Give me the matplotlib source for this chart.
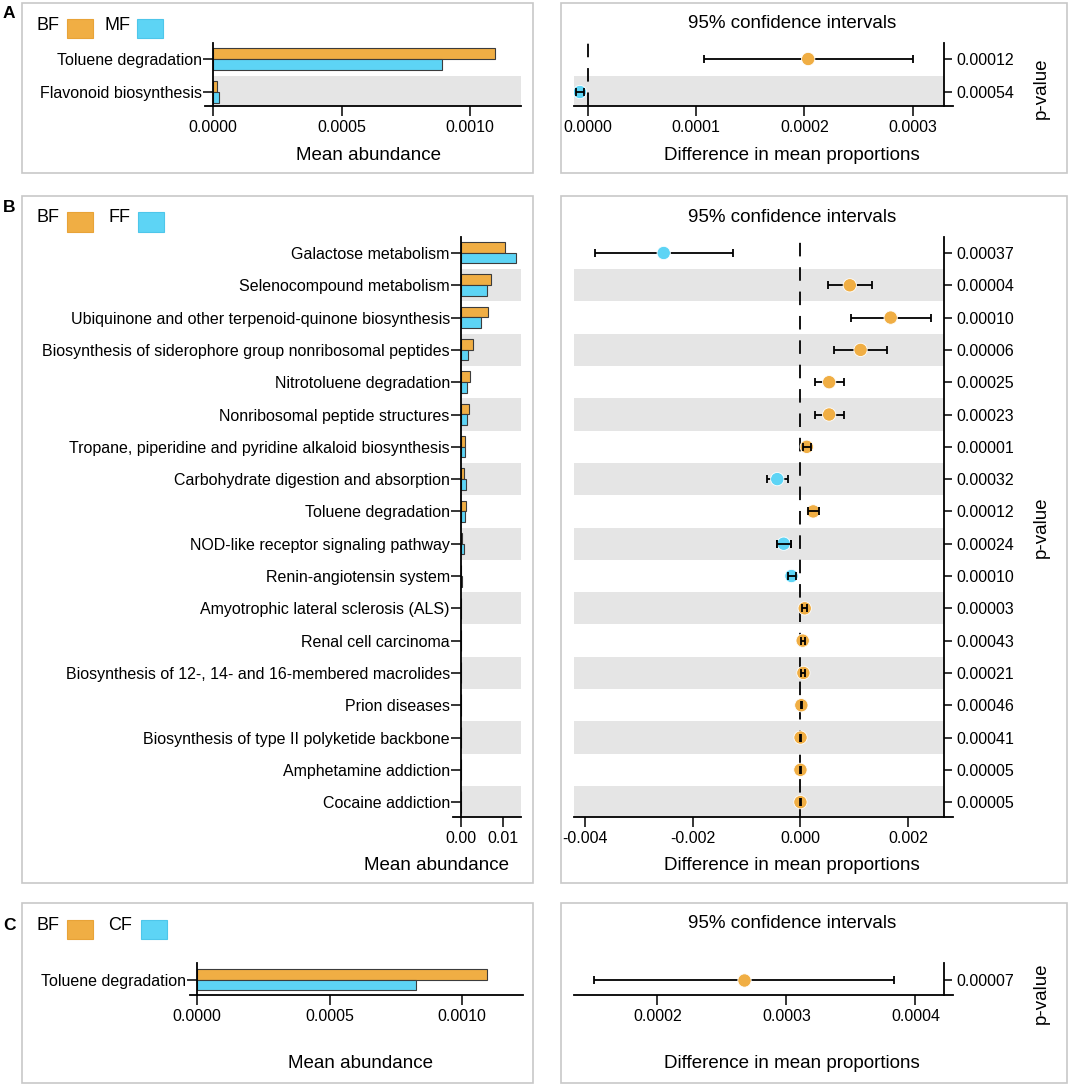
import matplotlib
matplotlib.use('Agg')
import matplotlib.pyplot as plt
from matplotlib.patches import Rectangle
import numpy as np

plt.rcParams['font.family'] = ['Liberation Sans', 'DejaVu Sans']
plt.rcParams['axes.unicode_minus'] = False

W, H = 1074, 1086
ORANGE = '#F0AE44'
BLUE = '#5DD4F5'
BAND = '#E5E5E5'
FRAME = '#C8C8C8'

# ---- panel A : BF vs MF
a_paths = ['Toluene degradation', 'Flavonoid biosynthesis']
a_bf = [0.001095, 0.000017]
a_mf = [0.000889, 0.000025]
a_diff = [0.0002036, -0.0000072]
a_lo = [0.0001074, -0.0000110]
a_hi = [0.0003000, -0.0000031]
a_p = ['0.00012', '0.00054']

# ---- panel B : BF vs FF
b_paths = ['Galactose metabolism', 'Selenocompound metabolism',
           'Ubiquinone and other terpenoid-quinone biosynthesis',
           'Biosynthesis of siderophore group nonribosomal peptides',
           'Nitrotoluene degradation', 'Nonribosomal peptide structures',
           'Tropane, piperidine and pyridine alkaloid biosynthesis',
           'Carbohydrate digestion and absorption', 'Toluene degradation',
           'NOD-like receptor signaling pathway', 'Renin-angiotensin system',
           'Amyotrophic lateral sclerosis (ALS)', 'Renal cell carcinoma',
           'Biosynthesis of 12-, 14- and 16-membered macrolides',
           'Prion diseases', 'Biosynthesis of type II polyketide backbone',
           'Amphetamine addiction', 'Cocaine addiction']
b_bf = [0.0104, 0.00715, 0.0065, 0.00276, 0.00203, 0.00187, 0.00098, 0.00065,
        0.0011, 0.0003, 0.00005, 0.00012, 0.00005, 0.00007, 0.00003, 0.00002,
        0.00001, 0.00001]
b_ff = [0.0130, 0.00618, 0.00488, 0.00163, 0.00146, 0.00138, 0.00089, 0.00114,
        0.00086, 0.0006, 0.00021, 0.00004, 0.00001, 0.00001, 0.00001, 0.00001,
        0.000005, 0.000005]
b_diff = [-0.00254, 0.00092, 0.00168, 0.00112, 0.000536, 0.000536, 0.00012,
          -0.000429, 0.00024, -0.000309, -0.000164, 0.000082, 0.000044,
          0.000057, 0.000019, 0.000004, 0.000002, 0.000002]
b_lo = [-0.00382, 0.000523, 0.00094, 0.00063, 0.000265, 0.000265, 0.000057,
        -0.000624, 0.000139, -0.000429, -0.00022, 0.000038, 0.000006,
        0.000019, 0.000004, -0.000006, -0.000004, -0.000004]
b_hi = [-0.001254, 0.00133, 0.00243, 0.00161, 0.000813, 0.000813, 0.000195,
        -0.000221, 0.000353, -0.000164, -0.000088, 0.000126, 0.000082,
        0.000095, 0.000034, 0.000014, 0.000008, 0.000008]
b_p = ['0.00037', '0.00004', '0.00010', '0.00006', '0.00025', '0.00023',
       '0.00001', '0.00032', '0.00012', '0.00024', '0.00010', '0.00003',
       '0.00043', '0.00021', '0.00046', '0.00041', '0.00005', '0.00005']

# ---- panel C : BF vs CF
c_paths = ['Toluene degradation']
c_bf = [0.001095]
c_cf = [0.000827]
c_diff = [0.0002675]
c_lo = [0.000151]
c_hi = [0.0003834]
c_p = ['0.00007']

fig = plt.figure(figsize=(W / 100, H / 100), dpi=100)


def px_ax(x0, y0, x1, y1):
    return fig.add_axes([x0 / W, 1 - y1 / H, (x1 - x0) / W, (y1 - y0) / H])


def ftext(x, y, s, **kw):
    fig.text(x / W, 1 - y / H, s, **kw)


def frame(x0, y0, x1, y1):
    fig.patches.append(Rectangle((x0 / W, 1 - y1 / H), (x1 - x0) / W, (y1 - y0) / H,
                                 transform=fig.transFigure, fill=False,
                                 ec=FRAME, lw=1.2))


def legend(y0, y1, ytxt, name2, x2txt, x2sq):
    ftext(36, ytxt, 'BF', fontsize=13, va='center')
    fig.patches.append(Rectangle((67 / W, 1 - y1 / H), 26 / W, (y1 - y0) / H,
                                 transform=fig.transFigure, fc=ORANGE, ec='#E8A338', lw=0.8))
    ftext(x2txt, ytxt, name2, fontsize=13, va='center')
    fig.patches.append(Rectangle((x2sq / W, 1 - y1 / H), 26 / W, (y1 - y0) / H,
                                 transform=fig.transFigure, fc=BLUE, ec='#4EC6EA', lw=0.8))


def abundance(ax, names, g1, g2, xlim, ylim, ticks, fmt):
    y = np.arange(len(names))
    for r in y[1::2]:
        ax.barh(r, xlim[1], left=0, height=1.0, color=BAND, lw=0, zorder=0)
    ax.barh(y - 0.17, g1, height=0.33, color=ORANGE, ec='#3c3c3c', lw=0.8, zorder=2)
    ax.barh(y + 0.16, g2, height=0.33, color=BLUE, ec='#3c3c3c', lw=0.8, zorder=2)
    ax.set_xlim(xlim)
    ax.set_ylim(ylim)
    ax.set_yticks(y, names)
    ax.set_xticks(ticks, [fmt % t for t in ticks])
    ax.spines['left'].set_position(('data', 0))
    ax.spines['top'].set_visible(False)
    ax.spines['right'].set_visible(False)
    ax.spines['left'].set_linewidth(1.3)
    ax.spines['bottom'].set_linewidth(1.3)
    ax.tick_params(axis='y', length=7, width=1.1, pad=1, labelsize=11.5)
    ax.tick_params(axis='x', length=7, width=1.1, pad=3, labelsize=11.5)
    ax.patch.set_alpha(0)


def ci_panel(ax, diff, lo, hi, pvals, xlim, spine_x, ylim, ticks, fmt, zero_line):
    y = np.arange(len(diff))
    diff, lo, hi = np.array(diff), np.array(lo), np.array(hi)
    for r in y[1::2]:
        ax.barh(r, spine_x - xlim[0], left=xlim[0], height=1.0, color=BAND, lw=0, zorder=0)
    if zero_line:
        ax.axvline(0, color='black', lw=1.3, dashes=(7.5, 6), zorder=1)
    colors = [ORANGE if d > 0 else BLUE for d in diff]
    ax.errorbar(diff, y, xerr=[diff - lo, hi - diff], fmt='none', ecolor='black',
                elinewidth=1.3, capsize=3, capthick=1.3, zorder=2)
    ax.scatter(diff, y, s=92, c=colors, edgecolors='white', linewidths=0.6, zorder=3)
    # short intervals sit inside the dot and stay visible on top of it
    px_per_unit = ax.get_position().width * W / (xlim[1] - xlim[0])
    short = (hi - lo) * px_per_unit < 16
    if short.any():
        ax.errorbar(diff[short], y[short], xerr=[(diff - lo)[short], (hi - diff)[short]],
                    fmt='none', ecolor='black', elinewidth=1.3, capsize=3,
                    capthick=1.3, zorder=4)
    ax.set_xlim(xlim)
    ax.set_ylim(ylim)
    ax.spines['right'].set_position(('data', spine_x))
    ax.spines['left'].set_visible(False)
    ax.spines['top'].set_visible(False)
    ax.spines['right'].set_linewidth(1.3)
    ax.spines['bottom'].set_linewidth(1.3)
    ax.yaxis.tick_right()
    ax.set_yticks(y, pvals)
    ax.set_xticks(ticks, [fmt % t for t in ticks])
    ax.tick_params(axis='y', length=6, width=1.1, pad=3, labelsize=11.5)
    ax.tick_params(axis='x', length=7, width=1.1, pad=3, labelsize=11.5)
    ax.patch.set_alpha(0)


# frames
frame(22, 3, 533, 173)
frame(561, 3, 1067, 173)
frame(22, 196, 533, 883)
frame(561, 196, 1067, 883)
frame(22, 903, 533, 1083)
frame(561, 903, 1067, 1083)

# panel letters
ftext(3, 14, 'A', fontsize=12.5, fontweight='bold', va='center')
ftext(3, 208, 'B', fontsize=12.5, fontweight='bold', va='center')
ftext(3, 926, 'C', fontsize=12.5, fontweight='bold', va='center')

# ---- A
legend(19, 38, 25, 'MF', 104, 137)
axA = px_ax(205, 43, 521, 106)
abundance(axA, a_paths, a_bf, a_mf, (-3.11e-5, 1.198e-3), (1.424, -0.485),
          [0, 0.0005, 0.001], '%.4f')
ftext(369, 155, 'Mean abundance', fontsize=13.5, ha='center', va='center')
axA2 = px_ax(574, 43, 953, 106)
ci_panel(axA2, a_diff, a_lo, a_hi, a_p, (-1.26e-5, 3.373e-4), 3.29e-4,
         (1.424, -0.485), [0, 0.0001, 0.0002, 0.0003], '%.4f', True)
ftext(792, 23, '95% confidence intervals', fontsize=13.5, ha='center', va='center')
ftext(792, 155, 'Difference in mean proportions', fontsize=13.5, ha='center', va='center')
ftext(1041, 88, 'p-value', fontsize=13.5, ha='center', va='center', rotation=90)

# ---- B
legend(212, 232, 217, 'FF', 108, 138)
axB = px_ax(453, 237, 521, 817)
abundance(axB, b_paths, b_bf, b_ff, (-0.0019, 0.01429), (17.46, -0.495),
          [0, 0.01], '%.2f')
ftext(436, 865, 'Mean abundance', fontsize=13.5, ha='center', va='center')
axB2 = px_ax(574, 237, 953, 817)
ci_panel(axB2, b_diff, b_lo, b_hi, b_p, (-0.004208, 0.002839), 0.002672,
         (17.46, -0.495), [-0.004, -0.002, 0, 0.002], '%.3f', True)
ftext(792, 217, '95% confidence intervals', fontsize=13.5, ha='center', va='center')
ftext(792, 865, 'Difference in mean proportions', fontsize=13.5, ha='center', va='center')
ftext(1041, 527, 'p-value', fontsize=13.5, ha='center', va='center', rotation=90)

# ---- C
legend(920, 939, 925, 'CF', 108, 141)
axC = px_ax(190, 963, 523, 995)
abundance(axC, c_paths, c_bf, c_cf, (-2.58e-5, 1.2288e-3), (0.47, -0.53),
          [0, 0.0005, 0.001], '%.4f')
ftext(360, 1063, 'Mean abundance', fontsize=13.5, ha='center', va='center')
axC2 = px_ax(574, 963, 953, 995)
ci_panel(axC2, c_diff, c_lo, c_hi, c_p, (1.354e-4, 4.291e-4), 4.221e-4,
         (0.47, -0.53), [0.0002, 0.0003, 0.0004], '%.4f', False)
ftext(792, 923, '95% confidence intervals', fontsize=13.5, ha='center', va='center')
ftext(792, 1063, 'Difference in mean proportions', fontsize=13.5, ha='center', va='center')
ftext(1041, 993, 'p-value', fontsize=13.5, ha='center', va='center', rotation=90)

fig.savefig('out.png', dpi=100)
